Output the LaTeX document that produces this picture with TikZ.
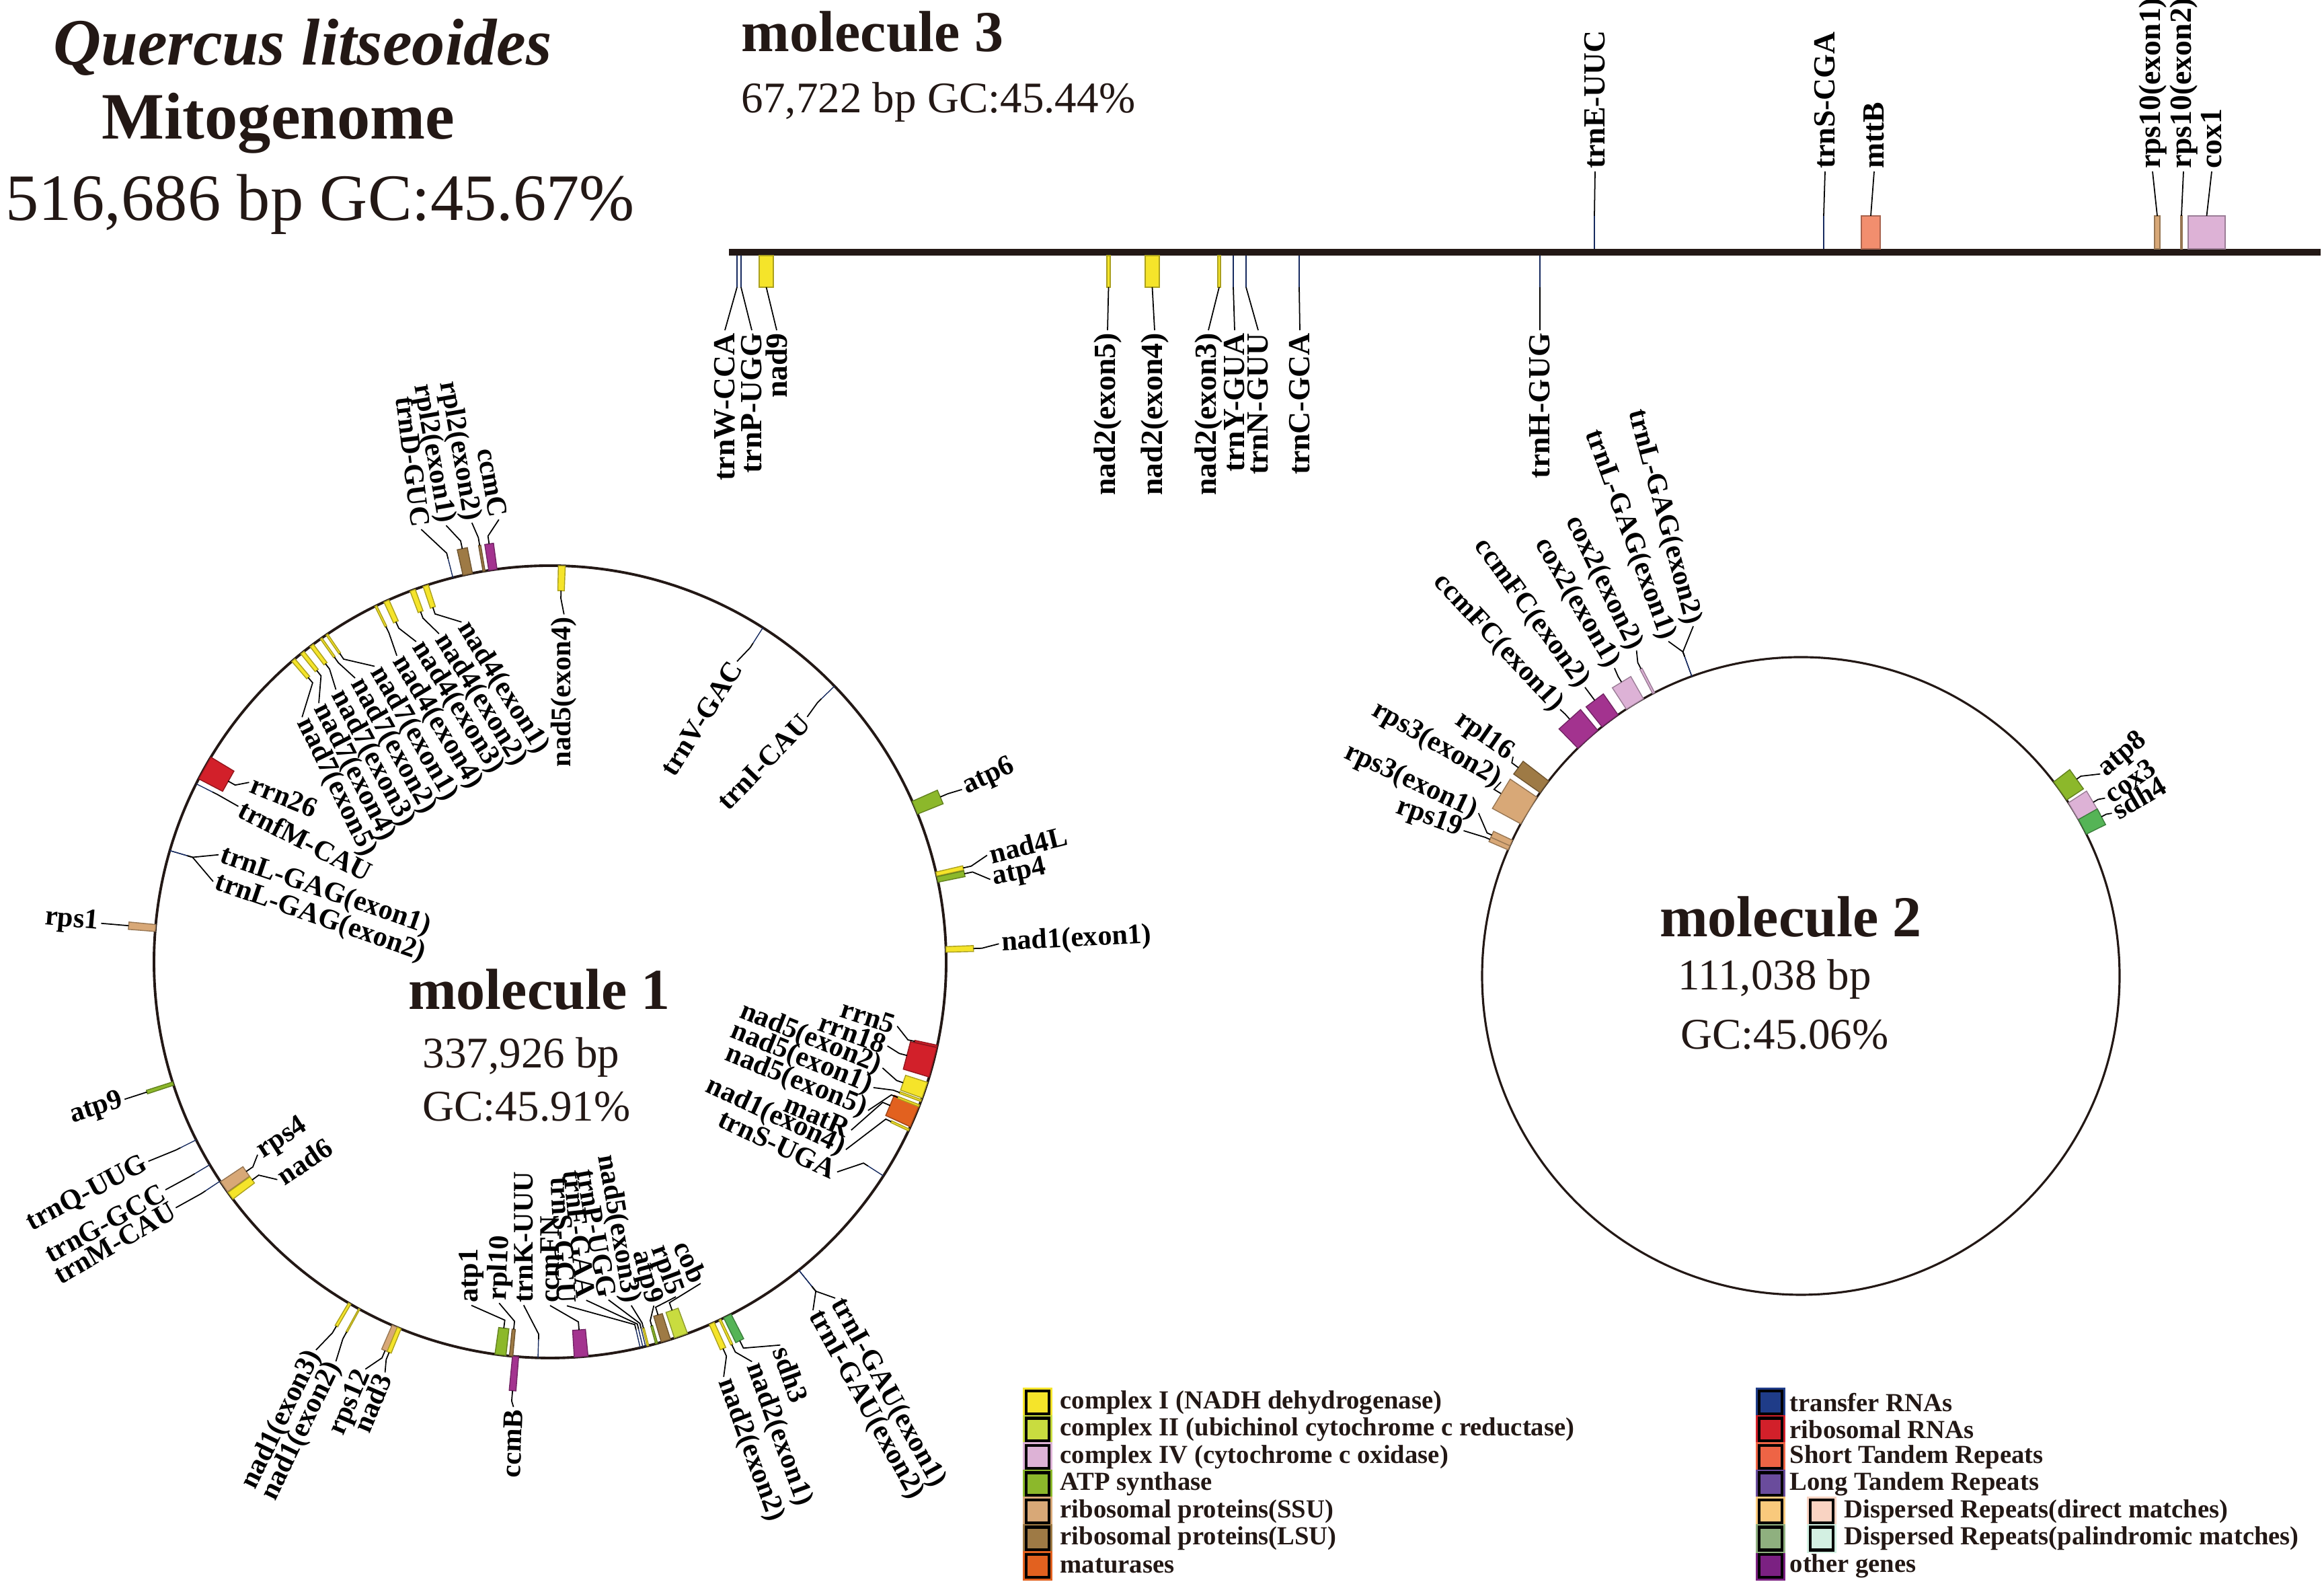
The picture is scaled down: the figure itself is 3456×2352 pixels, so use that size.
\documentclass[tikz,border=0pt]{standalone}
\usepackage{fontspec}
\setmainfont{Liberation Serif}
\usetikzlibrary{positioning}

\definecolor{ink}{HTML}{231815}
\definecolor{cI}{HTML}{F5E42A}
\definecolor{cII}{HTML}{C9DC3F}
\definecolor{cIV}{HTML}{DDB2D6}
\definecolor{atp}{HTML}{8CB82B}
\definecolor{ssu}{HTML}{D8A877}
\definecolor{lsu}{HTML}{9E7A45}
\definecolor{mat}{HTML}{E2611F}
\definecolor{trna}{HTML}{1F3C88}
\definecolor{rrna}{HTML}{D2202A}
\definecolor{str}{HTML}{EE6445}
\definecolor{ltr}{HTML}{6A4C9C}
\definecolor{drA}{HTML}{F9C97C}
\definecolor{drB}{HTML}{F9D3C2}
\definecolor{dpA}{HTML}{8FB07F}
\definecolor{dpB}{HTML}{D3F0E2}
\definecolor{oth}{HTML}{7B2182}
\definecolor{ccmc}{HTML}{A3338F}
\definecolor{sdh}{HTML}{55B456}
\definecolor{mtt}{HTML}{F28E6E}

\newcommand\titlefont{\fontsize{28}{32}\selectfont}
\newcommand\molfont{\fontsize{24.5}{28}\selectfont\bfseries}
\newcommand\infofont{\fontsize{18.5}{22}\selectfont}
\newcommand\lbf{\fontsize{12}{14}\selectfont\bfseries}
\newcommand\lbfl{\fontsize{13}{15}\selectfont\bfseries}
\newcommand\legfont{\fontsize{11}{13}\selectfont\bfseries}

\begin{document}
\begin{tikzpicture}[
  x=0.01cm, y=0.01cm,
  lab/.style = {font=\lbf, inner sep=1pt, text=black},
  linelab/.style = {font=\lbfl, inner sep=1pt, text=black},
  lead/.style = {line width=0.5pt, black},
  feat/.style = {line width=0.4pt, draw=#1!70!black, fill=#1},
  legsq/.style = {minimum width=0.34cm, minimum height=0.34cm, inner sep=0pt,
    draw=black, line width=1.4pt, fill=#1, preaction={draw=#1, line width=2.8pt}},
  legtxt/.style = {font=\legfont, text=ink, inner sep=1pt}
  ]
\useasboundingbox (0,0) rectangle (3456,2352);

\node[font=\titlefont\bfseries\itshape, text=ink, anchor=base] (species) at (450,2255) {Quercus litseoides};
\node[font=\titlefont\bfseries, text=ink, anchor=base] (mito) at (414,2145) {Mitogenome};
\node[font=\titlefont, text=ink, anchor=base] (size) at (476,2024) {516,686 bp GC:45.67\%};

% molecule 3
\node[font=\molfont, text=ink, anchor=base west, inner sep=0pt] (m3) at (1102,2275) {molecule 3};
\node[font=\infofont, text=ink, anchor=base west, inner sep=0pt] (m3info) at (1102,2184) {67,722 bp GC:45.44\%};
\coordinate (@l) at (1084,1977);
\coordinate (@r) at (3451,1977);
\draw[line width=2.6pt, ink] (@l) -- (@r);
\foreach \x/\w/\col/\lx/\txt [count=\i] in {
  1096/0/trna/1078/trnW-CCA, 1102/0/trna/1118/trnP-UGG, 1139.5/10.5/cI/1155/nad9,
  1648.5/2.5/cI/1647/nad2(exon5), 1713.5/10.5/cI/1717/nad2(exon4), 1813/2/cI/1797/nad2(exon3),
  1834/0/trna/1836/trnY-GUA, 1853/0/trna/1871/trnN-GUU, 1932/0/trna/1933/trnC-GCA,
  2290/0/trna/2290/trnH-GUG}{
  \draw[feat=\col] (\x-\w,1972) rectangle (\x+\w,1925);
  \node[linelab, rotate=90, anchor=east] (mc\i) at (\lx,1861) {\txt};
  \draw[lead] (\x,1925) -- (mc\i.east);
}
\foreach \x/\w/\col/\lx/\txt [count=\i] in {
  2371/0/trna/2372/trnE-UUC, 2712/0/trna/2714/trnS-CGA, 2782/14/mtt/2787/mttB,
  3208/4/ssu/3201/rps10(exon1), 3244/1/ssu/3247/rps10(exon2), 3281.5/27.5/cIV/3289/cox1}{
  \draw[feat=\col] (\x-\w,1982) rectangle (\x+\w,2031);
  \node[linelab, rotate=90, anchor=west] (md\i) at (\lx,2097) {\txt};
  \draw[lead] (\x,2031) -- (md\i.west);
}

% molecule 1
\coordinate (@m1) at (818,922);
\node[font=\molfont, text=ink, anchor=base] (m1) at (802,851) {molecule 1};
\node[font=\infofont, text=ink, anchor=base] (m1bp) at (775,764) {337,926 bp};
\node[font=\infofont, text=ink, anchor=base] (m1gc) at (783,685) {GC:45.91\%};
\begin{scope}[shift={(@m1)}]
\draw[line width=1.1pt, ink] (0,0) circle[radius=589];
\foreach \a/\w/\ra/\rb/\col/\la/\lr/\rot/\anc/\txt [count=\i] in {
  104.2/0/589/618/trna/106.6/671/-83/east/trnD-GUC,
  102/0.7/589/628/lsu/103.4/667/-80/east/rpl2(exon1),
  99.6/0.15/589/628/lsu/100.1/663/-80/east/rpl2(exon2),
  98.3/0.6/589/628/ccmc/96.6/662/-80/east/ccmC,
  88.3/0.5/589/552/cI/87.7/517/90/east/nad5(exon4),
  108.3/0.4/589/555/cI/104.6/522/-58/west/nad4(exon1),
  110.3/0.4/589/555/cI/108.7/515/-58/west/nad4(exon2),
  114.4/0.4/589/555/cI/112.7/516/-58/west/nad4(exon3),
  116.1/0.15/589/555/cI/116.6/509/-59/west/nad4(exon4),
  124.3/0.15/589/555/cI/120.7/511/-60/west/nad7(exon1),
  125.3/0.15/589/555/cI/124.5/512/-61/west/nad7(exon2),
  127/0.3/589/555/cI/128.2/515/-62/west/nad7(exon3),
  128.7/0.3/589/555/cI/131.8/516/-63/west/nad7(exon4),
  130.4/0.3/589/555/cI/135.4/518/-64/west/nad7(exon5),
  150.7/1.8/589/549/rrna/149.2/521/-22/west/rrn26,
  153.3/0/589/562/trna/153.5/518/-27/west/trnfM-CAU,
  163.7/0/589/562/trna/162.1/518/-19/west/trnL-GAG(exon1),
  163.7/0/589/562/trna/166.6/515/-19/west/trnL-GAG(exon2),
  175.1/0.5/589/629/ssu/175.1/670/-5/east/rps1,
  197.9/0.25/589/630/atp/197.9/665/18/east/atp9,
  206.7/0/589/615/trna/206.4/667/28/east/trnQ-UUG,
  210.8/0/589/615/trna/210.65/665/29/east/trnG-GCC,
  213.6/0/589/615/trna/213.3/666/30/east/trnM-CAU,
  214.6/0.9/589/549/ssu/213.4/521/33/west/rps4,
  216.2/0.6/589/549/cI/218.6/519/34/west/nad6,
  239.6/0.2/589/628/cI/238.9/674/64/east/nad1(exon3),
  241.2/0.1/589/628/cI/241.8/674/64/east/nad1(exon2),
  247/0.5/589/628/ssu/245.6/665/67/east/rps12,
  247.6/0.3/589/628/cI/248.1/658/67/east/nad3,
  265/0.45/589/640/ccmc/265.3/664/88/east/ccmB,
  262.8/0.8/589/549/atp/257.1/524/90/west/atp1,
  264.35/0.25/589/549/lsu/261.5/513/88/west/rpl10,
  268.25/0/589/562/trna/265.6/512/90/west/trnK-UUU,
  274.5/1.0/589/549/ccmc/270/511/90/west/ccmFN,
  283.15/0/589/562/trna/272.8/512/-87/east/trnS-GCU,
  283.55/0/589/562/trna/276.1/506/-84/east/trnF-GAA,
  283.95/0/589/562/trna/279.8/510/-80/east/trnP-UGG,
  284.3/0.12/589/562/cI/283.3/525/-80/east/nad5(exon3),
  285.6/0.15/589/562/atp/286.8/534/-75/east/atp9,
  287/0.7/589/549/lsu/290.6/532/-70/east/rpl5,
  289.3/1.0/589/549/cII/295.1/528/-65/east/cob,
  294.1/0.4/589/630/cI/292.7/669/-70/west/nad2(exon2),
  295.4/0.15/589/630/cI/296.8/666/-70/west/nad2(exon1),
  296.6/0.6/589/630/sdh/301/664.7/-70/west/sdh3,
  308.9/0/589/620/trna/310.3/655.6/-61/west/trnI-GAU(exon1),
  308.9/0/589/620/trna/307.05/649/-61/west/trnI-GAU(exon2),
  327.3/0/589/562/trna/323.8/529/-25/east/trnS-UGA,
  334.9/0.15/589/560/cI/327.6/521/-25/east/nad1(exon4),
  337.1/1.7/589/549/mat/330.8/513/-23/east/matR,
  338.7/0.15/589/555/cI/334.95/522/-22/east/nad5(exon5),
  339.5/0.15/589/555/cI/338.75/516/-22/east/nad5(exon1),
  341.1/1.2/589/555/cI/342.3/519/-22/east/nad5(exon2),
  345.3/2.2/589/549/rrna/346/517/-20/east/rrn18,
  347.7/0.15/589/555/rrna/349.5/525/-18/east/rrn5,
  22.9/1.0/589/630/atp/22.7/664/25/west/atp6,
  12.8/0.3/589/630/cI/13.7/669/14/west/nad4L,
  12.0/0.4/589/630/atp/10.6/666/12/west/atp4,
  1.8/0.4/589/630/cI/2.3/668/3/west/nad1(exon1),
  57.5/0/589/562/trna/58.1/526/58/east/trnV-GAC,
  44.1/0/589/562/trna/43.6/528/46/east/trnI-CAU}{
  \draw[feat=\col] (\a-\w:\ra) -- (\a-\w:\rb) -- (\a+\w:\rb) -- (\a+\w:\ra) -- cycle;
  \pgfmathsetmacro\rk{\rb+0.3*(\rb-\ra)}
  \node[lab, rotate=\rot, anchor=\anc] (ma\i) at (\la:\lr) {\txt};
  \draw[lead] (\a:\rb) -- (\a:\rk) -- (ma\i.\anc);
}
\end{scope}

% molecule 2
\coordinate (@m2) at (2678,901);
\node[font=\molfont, text=ink, anchor=base] (m2) at (2663,959) {molecule 2};
\node[font=\infofont, text=ink, anchor=base] (m2bp) at (2639,880) {111,038 bp};
\node[font=\infofont, text=ink, anchor=base] (m2gc) at (2654,792) {GC:45.06\%};
\begin{scope}[shift={(@m2)}]
\draw[line width=0.9pt, ink] (0,0) circle[radius=474];
\foreach \a/\w/\ra/\rb/\col/\la/\lr/\rot/\anc/\txt [count=\i] in {
  110/0/474/505/trna/111.6/535/-70/east/trnL-GAG(exon1),
  110/0/474/505/trna/107.1/544/-75/east/trnL-GAG(exon2),
  117.5/0.2/474/515/cIV/116.8/542/-64/east/cox2(exon2),
  121.4/1.8/474/512/cIV/121.2/535/-60/east/cox2(exon1),
  126.8/1.8/474/512/ccmc/126.8/536/-54/east/ccmFC(exon2),
  132/2.4/474/514/ccmc/132.1/534/-47/east/ccmFC(exon1),
  148.7/2.8/474/522/ssu/147.1/531/-30/east/rps3(exon2),
  143.6/1.3/474/522/lsu/142.7/538/-35/east/rpl16,
  155.5/0.7/474/505/ssu/153.2/537/-25/east/rps3(exon1),
  156.3/0.4/474/505/ssu/156.7/546/-20/east/rps19,
  35.5/2.0/474/504/atp/34/537/40/west/atp8,
  30.7/2.2/474/506/cIV/30.3/524/35/west/cox3,
  27.9/1.5/474/506/sdh/27.6/522/30/west/sdh4}{
  \draw[feat=\col] (\a-\w:\ra) -- (\a-\w:\rb) -- (\a+\w:\rb) -- (\a+\w:\ra) -- cycle;
  \pgfmathsetmacro\rk{\rb+0.25*(\rb-\ra)}
  \node[lab, rotate=\rot, anchor=\anc] (mb\i) at (\la:\lr) {\txt};
  \draw[lead] (\a:\rb) -- (\a:\rk) -- (mb\i.\anc);
}
\end{scope}

% legend
\foreach \col/\txt [count=\i] in {cI/complex I (NADH dehydrogenase),
  cII/complex II (ubichinol cytochrome c reductase), cIV/complex IV (cytochrome c oxidase),
  atp/ATP synthase, ssu/ribosomal proteins(SSU), lsu/ribosomal proteins(LSU), mat/maturases}{
  \node[legsq=\col] (lg\i) at (1543,{267-40.5*(\i-1)}) {};
  \node[legtxt, right=0.1cm of lg\i] (lt\i) {\txt};
}
\foreach \col/\txt/\j in {trna/transfer RNAs/1, rrna/ribosomal RNAs/2,
  str/Short Tandem Repeats/3, ltr/Long Tandem Repeats/4, oth/other genes/7}{
  \node[legsq=\col] (rg\j) at (2633,{267-40.5*(\j-1)}) {};
  \node[legtxt, right=0.05cm of rg\j] (rt\j) {\txt};
}
\node[legsq=drA] (rg5) at (2633,105) {};
\node[legsq=drB, right=0.37cm of rg5] (rh5) {};
\node[legtxt, right=0.1cm of rh5] (rt5) {Dispersed Repeats(direct matches)};
\node[legsq=dpA] (rg6) at (2633,64.5) {};
\node[legsq=dpB, right=0.37cm of rg6] (rh6) {};
\node[legtxt, right=0.1cm of rh6] (rt6) {Dispersed Repeats(palindromic matches)};
\end{tikzpicture}
\end{document}
